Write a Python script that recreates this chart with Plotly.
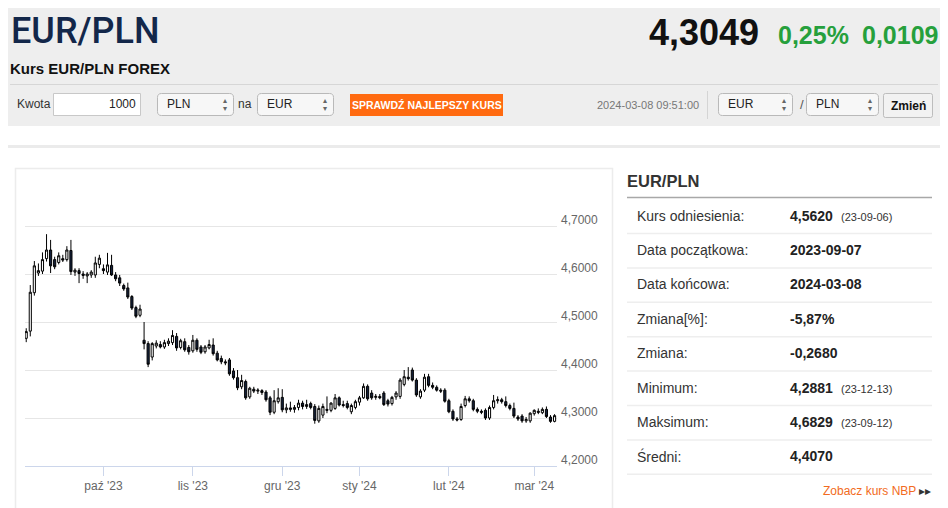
import pandas as pd
import plotly.graph_objects as go

# EUR/PLN daily candles, 2023-09-05 .. 2024-03-08 (no quotes on 25-26.12 and 1.01)
holidays = ["2023-12-25", "2023-12-26", "2024-01-01"]
dates = [d.strftime("%Y-%m-%d") for d in pd.bdate_range("2023-09-05", "2024-03-08")
         if d.strftime("%Y-%m-%d") not in holidays]

opens = [4.466, 4.481, 4.561, 4.602, 4.606, 4.632, 4.650, 4.630, 4.624, 4.632,
         4.630, 4.649, 4.604, 4.607, 4.600, 4.596, 4.598, 4.598, 4.620, 4.611,
         4.604, 4.618, 4.598, 4.592, 4.576, 4.571, 4.553, 4.530, 4.514, 4.462,
         4.455, 4.427, 4.450, 4.453, 4.448, 4.455, 4.457, 4.470, 4.447, 4.459,
         4.447, 4.440, 4.462, 4.448, 4.438, 4.446, 4.452, 4.435, 4.424, 4.417,
         4.421, 4.398, 4.384, 4.365, 4.376, 4.344, 4.360, 4.356, 4.357, 4.354,
         4.342, 4.312, 4.334, 4.343, 4.317, 4.321, 4.318, 4.322, 4.331, 4.324,
         4.330, 4.324, 4.294, 4.306, 4.318, 4.316, 4.320, 4.342, 4.328, 4.330,
         4.313, 4.322, 4.333, 4.342, 4.366, 4.352, 4.343, 4.345, 4.352, 4.336,
         4.330, 4.344, 4.345, 4.370, 4.385, 4.400, 4.379, 4.344, 4.358, 4.386,
         4.368, 4.364, 4.358, 4.358, 4.336, 4.314, 4.298, 4.297, 4.326, 4.340,
         4.336, 4.318, 4.314, 4.316, 4.300, 4.322, 4.336, 4.338, 4.334, 4.326,
         4.320, 4.302, 4.304, 4.294, 4.294, 4.309, 4.314, 4.311, 4.318, 4.302,
         4.293]
highs = [4.487, 4.577, 4.627, 4.622, 4.645, 4.683, 4.671, 4.636, 4.645, 4.640,
         4.658, 4.671, 4.612, 4.612, 4.606, 4.604, 4.608, 4.636, 4.640, 4.620,
         4.644, 4.640, 4.604, 4.598, 4.580, 4.582, 4.556, 4.534, 4.536, 4.500,
         4.460, 4.458, 4.462, 4.460, 4.463, 4.466, 4.483, 4.477, 4.465, 4.466,
         4.452, 4.473, 4.466, 4.452, 4.452, 4.463, 4.466, 4.440, 4.430, 4.422,
         4.425, 4.404, 4.400, 4.390, 4.380, 4.365, 4.365, 4.362, 4.360, 4.358,
         4.346, 4.358, 4.362, 4.360, 4.330, 4.334, 4.327, 4.338, 4.336, 4.338,
         4.334, 4.329, 4.326, 4.330, 4.345, 4.333, 4.350, 4.345, 4.336, 4.336,
         4.330, 4.338, 4.346, 4.372, 4.370, 4.358, 4.350, 4.350, 4.356, 4.340,
         4.346, 4.356, 4.383, 4.400, 4.406, 4.405, 4.383, 4.360, 4.392, 4.392,
         4.374, 4.368, 4.362, 4.362, 4.340, 4.318, 4.302, 4.330, 4.346, 4.345,
         4.340, 4.322, 4.318, 4.320, 4.326, 4.348, 4.345, 4.342, 4.345, 4.330,
         4.332, 4.306, 4.308, 4.302, 4.312, 4.318, 4.320, 4.322, 4.324, 4.306,
         4.308]
lows = [4.458, 4.470, 4.555, 4.596, 4.600, 4.626, 4.602, 4.610, 4.620, 4.625,
        4.626, 4.598, 4.596, 4.581, 4.590, 4.581, 4.592, 4.592, 4.612, 4.600,
        4.598, 4.596, 4.585, 4.575, 4.565, 4.548, 4.525, 4.508, 4.510, 4.443,
        4.406, 4.420, 4.445, 4.445, 4.444, 4.450, 4.452, 4.440, 4.443, 4.438,
        4.432, 4.436, 4.438, 4.433, 4.434, 4.443, 4.430, 4.418, 4.412, 4.410,
        4.388, 4.380, 4.358, 4.360, 4.338, 4.340, 4.352, 4.350, 4.348, 4.334,
        4.306, 4.308, 4.330, 4.312, 4.310, 4.313, 4.311, 4.316, 4.318, 4.319,
        4.318, 4.2881, 4.290, 4.300, 4.310, 4.312, 4.317, 4.324, 4.322, 4.318,
        4.308, 4.318, 4.326, 4.340, 4.336, 4.338, 4.338, 4.339, 4.325, 4.324,
        4.326, 4.338, 4.340, 4.366, 4.378, 4.376, 4.344, 4.340, 4.354, 4.364,
        4.360, 4.355, 4.352, 4.332, 4.310, 4.294, 4.293, 4.294, 4.322, 4.332,
        4.314, 4.310, 4.308, 4.296, 4.296, 4.318, 4.330, 4.330, 4.322, 4.316,
        4.300, 4.294, 4.290, 4.290, 4.290, 4.305, 4.308, 4.308, 4.300, 4.290,
        4.291]
closes = [4.480, 4.562, 4.617, 4.607, 4.630, 4.650, 4.617, 4.615, 4.638, 4.629,
          4.650, 4.605, 4.608, 4.601, 4.597, 4.600, 4.604, 4.623, 4.633, 4.607,
          4.619, 4.598, 4.590, 4.581, 4.569, 4.552, 4.529, 4.512, 4.527, 4.455,
          4.412, 4.455, 4.456, 4.448, 4.457, 4.460, 4.472, 4.446, 4.461, 4.442,
          4.438, 4.462, 4.443, 4.437, 4.448, 4.453, 4.434, 4.421, 4.417, 4.415,
          4.392, 4.384, 4.363, 4.378, 4.342, 4.362, 4.356, 4.358, 4.353, 4.338,
          4.312, 4.336, 4.342, 4.317, 4.321, 4.318, 4.322, 4.331, 4.324, 4.328,
          4.322, 4.295, 4.320, 4.324, 4.316, 4.331, 4.342, 4.327, 4.326, 4.322,
          4.326, 4.334, 4.342, 4.366, 4.340, 4.342, 4.345, 4.342, 4.328, 4.329,
          4.343, 4.352, 4.379, 4.386, 4.382, 4.379, 4.348, 4.356, 4.385, 4.368,
          4.364, 4.358, 4.356, 4.335, 4.313, 4.298, 4.296, 4.324, 4.340, 4.336,
          4.318, 4.314, 4.312, 4.300, 4.322, 4.336, 4.338, 4.334, 4.326, 4.320,
          4.304, 4.298, 4.294, 4.297, 4.310, 4.316, 4.312, 4.318, 4.303, 4.293,
          4.3049]

month_labels = ["paź '23", "lis '23", "gru '23", "sty '24", "lut '24", "mar '24"]
month_keys = ["2023-10", "2023-11", "2023-12", "2024-01", "2024-02", "2024-03"]
y_ticks = [4.2, 4.3, 4.4, 4.5, 4.6, 4.7, 4.8]

# right-hand table
row_labels = ["Kurs odniesienia:", "Data początkowa:", "Data końcowa:", "Zmiana[%]:",
              "Zmiana:", "Minimum:", "Maksimum:", "Średni:"]
row_values = ["4,5620", "2023-09-07", "2024-03-08", "-5,87%", "-0,2680",
              "4,2881", "4,6829", "4,4070"]
row_dates = ["(23-09-06)", "", "", "", "", "(23-12-13)", "(23-09-12)", ""]

FONT = "Liberation Sans, Arial, sans-serif"
OFF = 8                          # the html body margin, page px = figure px + 8
W, H = 948 - OFF, 508 - OFF
L, R, T, B = 25, 557, 178, 466   # plot area in page pixels


def X(px):
    return (px - L) / (R - L)


def Y(py):
    return (B - py) / (B - T)


shapes = []
annotations = []


def rect(x0, y0, x1, y1, fill="rgba(0,0,0,0)", line="rgba(0,0,0,0)", lw=1):
    shapes.append(dict(type="rect", xref="paper", yref="paper",
                       x0=X(x0), x1=X(x1), y0=Y(y0), y1=Y(y1),
                       fillcolor=fill, line=dict(color=line, width=lw)))


def rrect(x0, y0, x1, y1, fill, line, r=4):
    p = lambda a, b: f"{X(a):.5f},{Y(b):.5f}"
    path = (f"M{p(x0 + r, y0)} L{p(x1 - r, y0)} Q{p(x1, y0)} {p(x1, y0 + r)} "
            f"L{p(x1, y1 - r)} Q{p(x1, y1)} {p(x1 - r, y1)} L{p(x0 + r, y1)} "
            f"Q{p(x0, y1)} {p(x0, y1 - r)} L{p(x0, y0 + r)} Q{p(x0, y0)} {p(x0 + r, y0)} Z")
    shapes.append(dict(type="path", xref="paper", yref="paper", path=path,
                       fillcolor=fill, line=dict(color=line, width=1)))


def hline(x0, x1, y, color, lw=1):
    shapes.append(dict(type="line", xref="paper", yref="paper",
                       x0=X(x0), x1=X(x1), y0=Y(y), y1=Y(y),
                       line=dict(color=color, width=lw)))


def vline(x, y0, y1, color, lw=1):
    shapes.append(dict(type="line", xref="paper", yref="paper",
                       x0=X(x), x1=X(x), y0=Y(y0), y1=Y(y1),
                       line=dict(color=color, width=lw)))


def txt(s, px, py, size, color="#333333", weight="normal", anchor="left", family=FONT):
    annotations.append(dict(text=s, x=X(px), y=Y(py), xref="paper", yref="paper",
                            xanchor=anchor, yanchor="middle", showarrow=False,
                            borderpad=0,
                            font=dict(size=size, color=color, family=family, weight=weight)))


def select(x0, x1, label):
    rrect(x0, 93.5, x1, 115.5, "#f7f7f7", "#b9b9b9")
    txt(label, x0 + 8, 104, 12, "#222222")
    txt("▴", x1 - 9, 100, 8, "#666666", anchor="center")
    txt("▾", x1 - 9, 108, 8, "#666666", anchor="center")


# header
rect(-10, -10, 960, 126, fill="#eeeeee")
txt("EUR/PLN", 10, 31, 36, "#13274a", weight=500, family="Roboto, sans-serif")
txt("4,3049", 648, 33, 36, "#111111", weight="bold")
txt("0,25%", 777, 35, 25, "#26a03c", weight="bold")
txt("0,0109", 861, 35, 25, "#26a03c", weight="bold")
txt("Kurs EUR/PLN FOREX", 9, 68, 15, "#111111", weight="bold")
hline(10, 938, 84.5, "#d6d6d6")

# converter row
txt("Kwota", 16, 104, 12, "#333333")
rect(53.5, 93.5, 140.5, 115.5, fill="#ffffff", line="#c8c8c8")
txt("1000", 137, 104, 12, "#222222", anchor="right")
select(157.5, 233.5, "PLN")
txt("na", 237, 104, 12, "#333333")
select(257.5, 333.5, "EUR")
rect(350, 94, 503, 116, fill="#ff6a10")
txt("SPRAWDŹ NAJLEPSZY KURS", 426.5, 105, 10.5, "#ffffff", weight="bold", anchor="center")
txt("2024-03-08 09:51:00", 596, 105, 11, "#777777")
vline(707.5, 91, 119, "#d4d4d4")
select(718.5, 792.5, "EUR")
txt("/", 799, 104, 13, "#555555")
select(806.5, 878.5, "PLN")
rrect(883.5, 93.5, 932.5, 117.5, "#f2f2f2", "#bdbdbd", r=2)
txt("Zmień", 908, 106, 12, "#111111", weight="bold", anchor="center")

# page panels
rect(1.5, 146.5, 946.5, 530, line="#ebebeb", lw=3)
rect(15.5, 168.5, 612.5, 530, line="#ececec", lw=1.5)

# stats table
txt("EUR/PLN", 626, 181, 16.5, "#333333", weight="bold")
hline(627, 932, 197.5, "#a8a8a8", 1.5)
for i, lab in enumerate(row_labels):
    yc = 215.5 + i * 34.4
    txt(lab, 636, yc, 14, "#333333")
    txt(row_values[i], 789, yc, 14, "#222222", weight="bold")
    if row_dates[i]:
        txt(row_dates[i], 840, yc + 1, 11, "#333333")
    hline(627, 932, yc + 18, "#eeeeee", 1.5)
txt("Zobacz kurs NBP <span style='color:#333333'>▸▸</span>", 932, 491, 12,
    "#f26b21", anchor="right")

tick_vals = [next(d for d in dates if d.startswith(k)) for k in month_keys]

fig = go.Figure(go.Candlestick(
    x=dates, open=opens, high=highs, low=lows, close=closes,
    increasing=dict(fillcolor="#ffffff", line=dict(color="#000000", width=1)),
    decreasing=dict(fillcolor="#15223d", line=dict(color="#000000", width=1)),
    whiskerwidth=0, hoverinfo="skip", showlegend=False,
))

fig.update_layout(
    width=W, height=H,
    margin=dict(l=L - OFF, r=W - (R - OFF), t=T - OFF, b=H - (B - OFF), pad=0),
    paper_bgcolor="#ffffff", plot_bgcolor="rgba(0,0,0,0)",
    font=dict(family=FONT, color="#666666"),
    shapes=shapes, annotations=annotations,
    boxgap=0.25,
    xaxis=dict(type="category", range=[-0.3, len(dates) - 0.4],
               rangeslider=dict(visible=False),
               tickmode="array", tickvals=tick_vals, ticktext=month_labels,
               showgrid=False, showline=True, linecolor="#ccd6eb", linewidth=1,
               ticks="outside", ticklen=9, tickcolor="#ccd6eb",
               tickfont=dict(size=12, color="#666666")),
    yaxis=dict(side="right", range=[4.2, 4.8], tickmode="array", tickvals=y_ticks,
               ticktext=[f"{v:.4f}".replace(".", ",") if v < 4.75 else "" for v in y_ticks],
               showgrid=True, gridcolor="#e6e6e6", gridwidth=1, zeroline=False,
               ticks="", ticklabelshift=-6, ticklabelstandoff=3,
               tickfont=dict(size=12, color="#666666")),
)

fig.write_html("out.html")
